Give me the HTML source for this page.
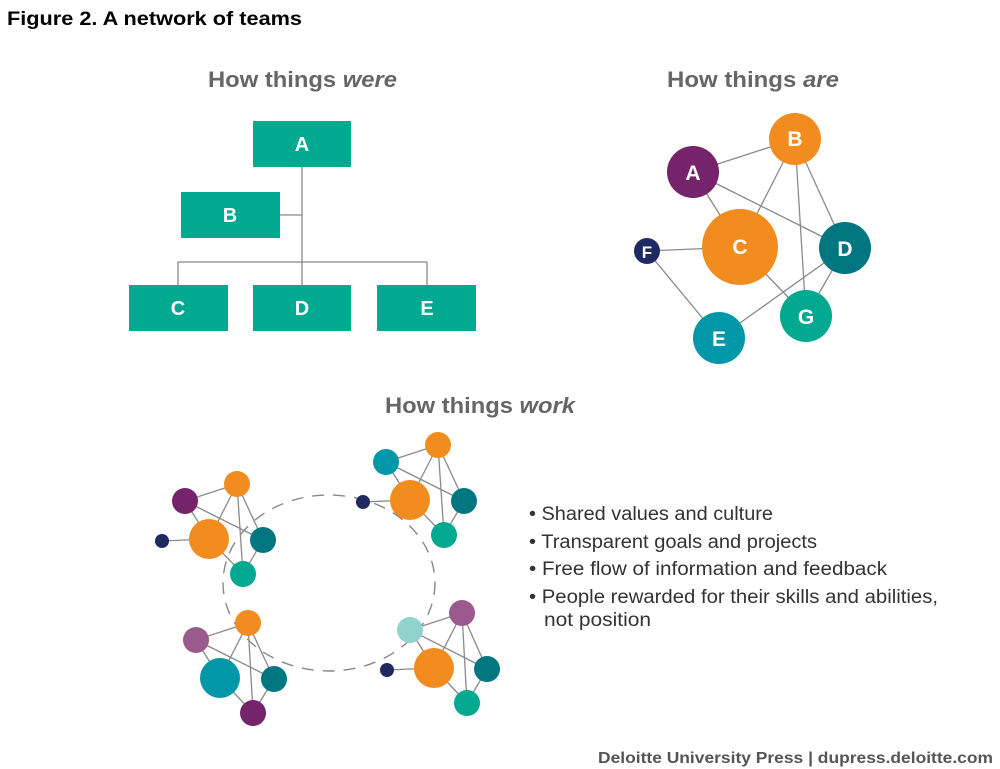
<!DOCTYPE html>
<html><head><meta charset="utf-8"><style>
body{margin:0;background:#fff;}
svg{display:block;font-family:"Liberation Sans",sans-serif;}
</style></head><body>
<svg width="1000" height="769" viewBox="0 0 1000 769" xmlns="http://www.w3.org/2000/svg">
<text x="7" y="25" font-size="19" font-weight="bold" fill="#000" textLength="295" lengthAdjust="spacingAndGlyphs">Figure 2. A network of teams</text>
<g font-size="22" font-weight="bold" fill="#666">
<text x="208" y="87" textLength="189" lengthAdjust="spacingAndGlyphs">How things <tspan font-style="italic">were</tspan></text>
<text x="667" y="87" textLength="172" lengthAdjust="spacingAndGlyphs">How things <tspan font-style="italic">are</tspan></text>
<text x="385" y="413" textLength="190" lengthAdjust="spacingAndGlyphs">How things <tspan font-style="italic">work</tspan></text>
</g>
<!-- org chart -->
<g stroke="#888" stroke-width="1.3" fill="none">
<line x1="302" y1="167" x2="302" y2="285"/>
<line x1="280" y1="215" x2="302" y2="215"/>
<line x1="178" y1="262" x2="427" y2="262"/>
<line x1="178" y1="262" x2="178" y2="285"/>
<line x1="427" y1="262" x2="427" y2="285"/>
</g>
<g fill="#00a98f">
<rect x="253" y="121" width="98" height="46"/>
<rect x="181" y="192" width="99" height="46"/>
<rect x="129" y="285" width="99" height="46"/>
<rect x="253" y="285" width="98" height="46"/>
<rect x="377" y="285" width="99" height="46"/>
</g>
<g fill="#fff" font-size="20" font-weight="bold" text-anchor="middle">
<text x="302" y="151">A</text><text x="230" y="222">B</text>
<text x="178" y="315">C</text><text x="302" y="315">D</text><text x="427" y="315">E</text>
</g>
<!-- network -->
<g stroke="#8a8a8a" stroke-width="1.3">
<line x1="693" y1="172" x2="795" y2="139"/>
<line x1="693" y1="172" x2="740" y2="247"/>
<line x1="693" y1="172" x2="845" y2="248"/>
<line x1="795" y1="139" x2="740" y2="247"/>
<line x1="795" y1="139" x2="806" y2="316"/>
<line x1="795" y1="139" x2="845" y2="248"/>
<line x1="647" y1="251" x2="740" y2="247"/>
<line x1="647" y1="251" x2="719" y2="338"/>
<line x1="719" y1="338" x2="845" y2="248"/>
<line x1="740" y1="247" x2="806" y2="316"/>
<line x1="806" y1="316" x2="845" y2="248"/>
</g>
<circle cx="795" cy="139" r="26" fill="#f28c1e"/>
<circle cx="693" cy="172" r="26" fill="#75236a"/>
<circle cx="740" cy="247" r="38" fill="#f28c1e"/>
<circle cx="845" cy="248" r="26" fill="#007680"/>
<circle cx="647" cy="251" r="13" fill="#1f2a63"/>
<circle cx="719" cy="338" r="26" fill="#0097a9"/>
<circle cx="806" cy="316" r="26" fill="#00a98f"/>
<g fill="#fff" font-size="21" font-weight="bold" text-anchor="middle">
<text x="795" y="146">B</text><text x="693" y="180">A</text><text x="740" y="254">C</text>
<text x="845" y="256">D</text><text x="647" y="258" font-size="17">F</text>
<text x="719" y="346">E</text><text x="806" y="324">G</text>
</g>
<!-- work clusters -->
<ellipse cx="329" cy="583" rx="106" ry="88" fill="none" stroke="#888" stroke-width="1.4" stroke-dasharray="12,9"/>
<g stroke="#8a8a8a" stroke-width="1.3">
<line x1="185" y1="501" x2="237" y2="484"/><line x1="185" y1="501" x2="209" y2="539"/><line x1="185" y1="501" x2="263" y2="540"/>
<line x1="237" y1="484" x2="209" y2="539"/><line x1="237" y1="484" x2="243" y2="574"/><line x1="237" y1="484" x2="263" y2="540"/>
<line x1="209" y1="539" x2="243" y2="574"/><line x1="263" y1="540" x2="243" y2="574"/><line x1="162" y1="541" x2="209" y2="539"/>
<line x1="386" y1="462" x2="438" y2="445"/><line x1="386" y1="462" x2="410" y2="500"/><line x1="386" y1="462" x2="464" y2="501"/>
<line x1="438" y1="445" x2="410" y2="500"/><line x1="438" y1="445" x2="444" y2="535"/><line x1="438" y1="445" x2="464" y2="501"/>
<line x1="410" y1="500" x2="444" y2="535"/><line x1="464" y1="501" x2="444" y2="535"/><line x1="363" y1="502" x2="410" y2="500"/>
<line x1="196" y1="640" x2="248" y2="623"/><line x1="196" y1="640" x2="220" y2="678"/><line x1="196" y1="640" x2="274" y2="679"/>
<line x1="248" y1="623" x2="220" y2="678"/><line x1="248" y1="623" x2="253" y2="713"/><line x1="248" y1="623" x2="274" y2="679"/>
<line x1="220" y1="678" x2="253" y2="713"/><line x1="274" y1="679" x2="253" y2="713"/>
<line x1="410" y1="630" x2="462" y2="613"/><line x1="410" y1="630" x2="434" y2="668"/><line x1="410" y1="630" x2="487" y2="669"/>
<line x1="462" y1="613" x2="434" y2="668"/><line x1="462" y1="613" x2="467" y2="703"/><line x1="462" y1="613" x2="487" y2="669"/>
<line x1="434" y1="668" x2="467" y2="703"/><line x1="487" y1="669" x2="467" y2="703"/><line x1="387" y1="670" x2="434" y2="668"/>
</g>
<g>
<circle cx="185" cy="501" r="13" fill="#75236a"/><circle cx="237" cy="484" r="13" fill="#f28c1e"/>
<circle cx="209" cy="539" r="20" fill="#f28c1e"/><circle cx="263" cy="540" r="13" fill="#007680"/>
<circle cx="243" cy="574" r="13" fill="#00a98f"/><circle cx="162" cy="541" r="7" fill="#1f2a63"/>
<circle cx="386" cy="462" r="13" fill="#0097a9"/><circle cx="438" cy="445" r="13" fill="#f28c1e"/>
<circle cx="410" cy="500" r="20" fill="#f28c1e"/><circle cx="464" cy="501" r="13" fill="#007680"/>
<circle cx="444" cy="535" r="13" fill="#00a98f"/><circle cx="363" cy="502" r="7" fill="#1f2a63"/>
<circle cx="196" cy="640" r="13" fill="#9b5a8e"/><circle cx="248" cy="623" r="13" fill="#f28c1e"/>
<circle cx="220" cy="678" r="20" fill="#0097a9"/><circle cx="274" cy="679" r="13" fill="#007680"/>
<circle cx="253" cy="713" r="13" fill="#75236a"/>
<circle cx="410" cy="630" r="13" fill="#8fd3cc"/><circle cx="462" cy="613" r="13" fill="#9b5a8e"/>
<circle cx="434" cy="668" r="20" fill="#f28c1e"/><circle cx="487" cy="669" r="13" fill="#007680"/>
<circle cx="467" cy="703" r="13" fill="#00a98f"/><circle cx="387" cy="670" r="7" fill="#1f2a63"/>
</g>
<g font-size="19" fill="#333" lengthAdjust="spacingAndGlyphs">
<text x="529" y="520" textLength="244" lengthAdjust="spacingAndGlyphs">• Shared values and culture</text>
<text x="529" y="548" textLength="288" lengthAdjust="spacingAndGlyphs">• Transparent goals and projects</text>
<text x="529" y="575" textLength="358" lengthAdjust="spacingAndGlyphs">• Free flow of information and  feedback</text>
<text x="529" y="603" textLength="409" lengthAdjust="spacingAndGlyphs">• People rewarded for their skills and abilities,</text>
<text x="544" y="626" textLength="107" lengthAdjust="spacingAndGlyphs">not position</text>
</g>
<text x="598" y="763" font-size="16" font-weight="bold" fill="#555" textLength="395" lengthAdjust="spacingAndGlyphs">Deloitte University Press  |  dupress.deloitte.com</text>
</svg>
</body></html>
